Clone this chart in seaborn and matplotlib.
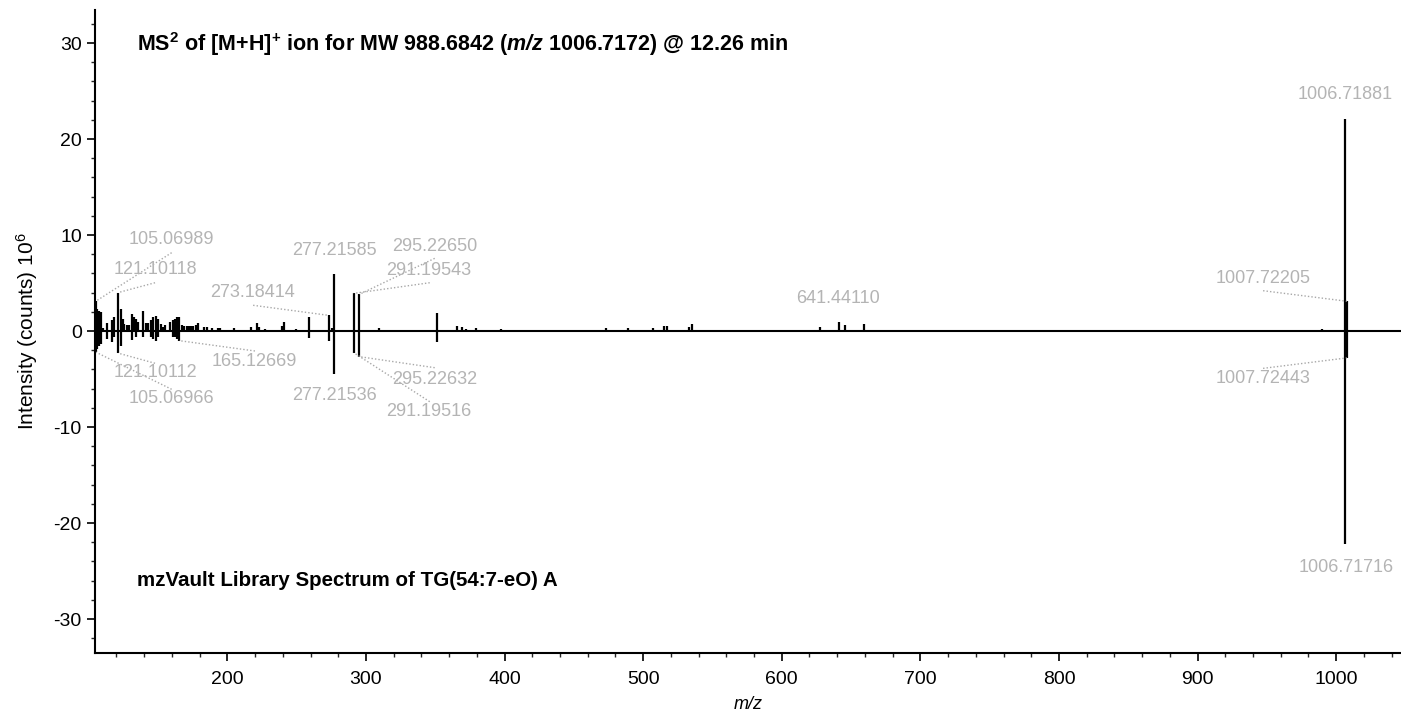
import matplotlib
matplotlib.use("Agg")
import matplotlib.pyplot as plt
import numpy as np
import pandas as pd
import seaborn as sns
from matplotlib.ticker import MultipleLocator

# measured spectrum (top, intensity in 10^6 counts)
top_mz = [105.07, 106.2, 107.4, 108.8, 110.5, 112.9, 116.5, 118.2, 121.10, 123.0,
          124.5, 125.7, 127.3, 129.3, 131.0, 132.4, 133.8, 135.8, 138.9, 141.1,
          143.0, 144.7, 146.6, 148.3, 150.0, 151.9, 153.8, 155.2, 158.6, 160.5,
          162.2, 163.9, 165.13, 167.0, 168.7, 170.6, 172.3, 173.8, 175.5, 177.4,
          178.6, 183.1, 185.1, 188.7, 193.0, 194.7, 205.0, 217.1, 221.2, 223.1,
          227.2, 239.2, 241.1, 249.3, 259.1, 273.18, 275.3, 277.22, 291.20, 295.23,
          309.4, 351.3, 365.5, 369.4, 372.2, 379.4, 397.2, 473.1, 489.3, 507.4,
          515.3, 517.2, 533.3, 535.3, 627.6, 641.44, 645.5, 659.5, 990.0, 1006.72,
          1007.72]
top_int = [3.1, 2.26, 2.08, 2.0, 0.35, 0.87, 1.15, 1.46, 4.0, 2.3,
           1.3, 0.73, 0.63, 0.63, 1.8, 1.5, 1.3, 0.97, 2.08, 0.8,
           0.8, 1.15, 1.42, 1.56, 1.3, 0.73, 0.45, 0.63, 0.97, 1.15,
           1.3, 1.42, 1.5, 0.63, 0.52, 0.52, 0.52, 0.49, 0.49, 0.59,
           0.8, 0.45, 0.45, 0.35, 0.35, 0.35, 0.31, 0.38, 0.8, 0.45,
           0.24, 0.52, 0.97, 0.24, 1.46, 1.63, 0.3, 5.94, 3.92, 3.82,
           0.33, 1.86, 0.54, 0.42, 0.2, 0.3, 0.24, 0.31, 0.35, 0.35,
           0.56, 0.49, 0.42, 0.7, 0.45, 0.95, 0.65, 0.73, 0.24, 22.1,
           3.1]

# library spectrum (drawn mirrored below the axis)
lib_mz = [105.07, 106.2, 107.4, 108.8, 112.9, 116.5, 118.2, 121.10, 123.0, 131.0,
          133.8, 138.9, 144.7, 146.6, 148.3, 150.0, 160.5, 162.2, 163.9, 165.13,
          259.1, 273.2, 277.22, 291.20, 295.23, 351.3, 1006.72, 1007.72]
lib_int = [2.2, 1.9, 1.6, 1.4, 0.87, 1.1, 0.66, 2.3, 1.6, 0.94,
           0.66, 0.6, 0.66, 0.87, 1.0, 0.66, 0.6, 0.66, 0.87, 1.0,
           0.76, 1.0, 4.48, 2.26, 2.67, 1.18, 22.2, 2.8]

# peak annotations
top_labels = ["105.06989", "121.10118", "273.18414", "277.21585", "295.22650",
              "291.19543", "641.44110", "1006.71881", "1007.72205"]
lib_labels = ["121.10112", "105.06966", "165.12669", "277.21536", "295.22632",
              "291.19516", "1007.72443", "1006.71716"]

# label layout: (text x, text y, leader start x, leader start y)
top_layout = [(159.5, 9.55, 159.8, 8.16), (147.8, 6.43, 147.8, 5.03),
              (218.1, 3.99, 218.6, 2.68), (277.0, 8.36, None, None),
              (349.4, 8.85, 349.6, 7.57), (345.3, 6.28, 346.0, 5.03),
              (640.4, 3.4, None, None), (1006.2, 24.6, None, None),
              (947.1, 5.49, 947.3, 4.2)]
lib_layout = [(147.8, -4.34, 147.8, -3.36), (159.5, -7.0, 159.8, -6.07),
              (219.6, -3.2, 219.9, -2.08), (277.0, -6.67, None, None),
              (349.4, -5.03, 349.6, -3.82), (345.3, -8.4, 346.0, -7.36),
              (947.1, -4.93, 947.3, -3.89), (1007.0, -24.6, None, None)]

sns.set_style("ticks")
plt.rcParams["font.family"] = ["Liberation Sans", "DejaVu Sans"]
plt.rcParams["text.color"] = "black"
plt.rcParams["axes.labelcolor"] = "black"
plt.rcParams["axes.unicode_minus"] = False
plt.rcParams["mathtext.fontset"] = "custom"
plt.rcParams["mathtext.rm"] = "Liberation Sans"
plt.rcParams["mathtext.it"] = "Liberation Sans:italic"
plt.rcParams["mathtext.bf"] = "Liberation Sans:bold"
try:
    plt.rcParams["mathtext.bfit"] = "Liberation Sans:italic:bold"
    mz_tex = r"$\mathbfit{m/z}$"
except KeyError:
    mz_tex = r"$\mathit{m/z}$"

fig = plt.figure(figsize=(14.01, 7.17), dpi=100)
ax = fig.add_axes([95 / 1401, 64 / 717, 1306 / 1401, 643 / 717])

top = pd.DataFrame({"mz": top_mz, "intensity": top_int})
lib = pd.DataFrame({"mz": lib_mz, "intensity": lib_int})

ax.vlines(top["mz"], 0, top["intensity"], color="black", lw=1.6)
ax.vlines(lib["mz"], 0, -lib["intensity"], color="black", lw=1.6)
ax.axhline(0, color="black", lw=1.5, zorder=3)

label_color = "#b4b4b4"
lead_color = "#a8a8a8"


def annotate(labels, layout, df, sign):
    for text, (tx, ty, lx, ly) in zip(labels, layout):
        ax.text(tx, ty, text, ha="center", va="center", color=label_color, fontsize=13)
        if lx is None:
            continue
        peak = df.iloc[(df["mz"] - float(text)).abs().argmin()]
        ax.plot([lx, peak["mz"]], [ly, sign * peak["intensity"]],
                color=lead_color, lw=1.0, ls=(0, (1, 1.5)))


annotate(top_labels, top_layout, top, 1)
annotate(lib_labels, lib_layout, lib, -1)

title = (r"MS$^{\mathbf{2}}$ of [M+H]$^{\mathbf{+}}$ ion for MW 988.6842 ("
         + mz_tex + " 1006.7172) @ 12.26 min")
ax.text(0.032, 29.9, title, transform=ax.get_yaxis_transform(),
        fontsize=15.5, fontweight="bold", va="center", ha="left")
ax.text(0.032, -26.0, "mzVault Library Spectrum of TG(54:7-eO) A",
        transform=ax.get_yaxis_transform(),
        fontsize=14.8, fontweight="bold", va="center", ha="left")

ax.set_xlim(104.5, 1046.8)
ax.set_ylim(-33.54, 33.44)
ax.xaxis.set_major_locator(MultipleLocator(100))
ax.xaxis.set_minor_locator(MultipleLocator(20))
ax.yaxis.set_major_locator(MultipleLocator(10))
ax.yaxis.set_minor_locator(MultipleLocator(2))
ax.tick_params(which="major", direction="out", length=6, width=1.2, labelsize=14,
               colors="black")
ax.tick_params(which="minor", direction="out", length=3, width=1.0)
ax.tick_params(axis="x", which="major", pad=7)

ax.set_xlabel("m/z", fontstyle="italic", fontsize=13, labelpad=6)
ax.set_ylabel(r"Intensity (counts) 10$^{6}$", fontsize=15, labelpad=10)

sns.despine(ax=ax)
for side in ["left", "bottom"]:
    ax.spines[side].set_linewidth(1.5)
    ax.spines[side].set_color("black")

fig.savefig("out.png", dpi=100)
